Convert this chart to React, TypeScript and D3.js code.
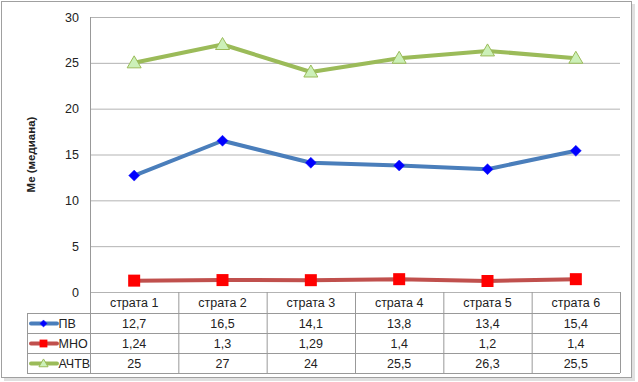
import React from "react";
import * as d3 from "d3";

const categories = ["страта 1", "страта 2", "страта 3", "страта 4", "страта 5", "страта 6"];
const seriesNames = ["ПВ", "МНО", "АЧТВ"];
const pvValues = [12.7, 16.5, 14.1, 13.8, 13.4, 15.4];
const mnoValues = [1.24, 1.3, 1.29, 1.4, 1.2, 1.4];
const achtvValues = [25, 27, 24, 25.5, 26.3, 25.5];
const yTicks = [0, 5, 10, 15, 20, 25, 30];
const yTitle = "Me (медиана)";

const fmt = (v: number) => String(v).replace(".", ",");

const W = 638, H = 382;
const plotL = 90, plotR = 620, plotT = 17, plotB = 292;
const tableL = 27;
const rowH = [21, 20, 20, 20];

export default function App() {
  const x = d3.scaleBand<string>().domain(categories).range([plotL, plotR]);
  const y = d3.scaleLinear().domain([0, 30]).range([plotB, plotT]);
  const cx = (c: string) => (x(c) as number) + x.bandwidth() / 2;
  const line = d3.line<number>().x((_, i) => cx(categories[i])).y((d) => y(d));

  const series = [
    { name: seriesNames[0], values: pvValues, color: "#4a7ebb", marker: "diamond" },
    { name: seriesNames[1], values: mnoValues, color: "#c0504d", marker: "square" },
    { name: seriesNames[2], values: achtvValues, color: "#9bbb59", marker: "triangle" },
  ];

  const marker = (type: string, px: number, py: number, key: string, k = 1) => {
    if (type === "diamond") {
      const s = 5.5 * k;
      return <path key={key} d={`M${px},${py - s}L${px + s},${py}L${px},${py + s}L${px - s},${py}Z`} fill="#0000ff" stroke="#1a1aff" strokeWidth={0.5} />;
    }
    if (type === "square") {
      const s = 6 * k;
      return <rect key={key} x={px - s} y={py - s} width={2 * s} height={2 * s} fill="#ff0000" />;
    }
    const s = 7 * k;
    return <path key={key} d={`M${px},${py - s}L${px + s},${py + 5 * k}L${px - s},${py + 5 * k}Z`} fill="#ccf0b8" stroke="#9bbb59" strokeWidth={1} />;
  };

  const font = "'Liberation Sans', Arial, sans-serif";
  const rowsY: number[] = [plotB];
  rowH.forEach((h, i) => rowsY.push(rowsY[i] + h));
  const tableB = rowsY[rowsY.length - 1];

  return (
    <svg width={W} height={H} style={{ position: "absolute", left: 0, top: 0 }} fontFamily={font}>
      <rect x={0} y={0} width={W} height={H} fill="#fff" />
      <rect x={4} y={4} width={631} height={377} fill="#e0e0e0" />
      <rect x={1.5} y={1.5} width={630} height={376} fill="#fff" stroke="#a0a0a0" strokeWidth={1} />
      {/* gridlines */}
      {yTicks.map((t) => (
        <line key={"g" + t} x1={plotL} x2={plotR} y1={y(t) + 0.5} y2={y(t) + 0.5} stroke="#b3b3b3" strokeWidth={1} />
      ))}
      <line x1={plotL + 0.5} x2={plotL + 0.5} y1={plotT} y2={tableB} stroke="#999" />
      {yTicks.map((t) => (
        <text key={"t" + t} x={79} y={y(t) + 4.5} fontSize={12.5} textAnchor="end" fill="#222">{t}</text>
      ))}
      <text transform={`translate(34.5,${(plotT + plotB) / 2}) rotate(-90)`} textAnchor="middle" fontSize={11.5} fontWeight="bold" fill="#222">{yTitle}</text>
      {/* table */}
      {rowsY.slice(1).map((ry, i) => (
        <line key={"r" + i} x1={tableL} x2={plotR} y1={ry + 0.5} y2={ry + 0.5} stroke="#999" />
      ))}
      <line x1={tableL + 0.5} x2={tableL + 0.5} y1={rowsY[1]} y2={tableB} stroke="#999" />
      {categories.map((c, i) => (
        <line key={"c" + i} x1={(x(c) as number) + x.bandwidth() + 0.5} x2={(x(c) as number) + x.bandwidth() + 0.5} y1={plotB} y2={tableB} stroke="#999" />
      ))}
      {categories.map((c) => (
        <text key={"h" + c} x={cx(c)} y={plotB + 15} fontSize={12.5} textAnchor="middle" fill="#222">{c}</text>
      ))}
      {series.map((s, si) => (
        <g key={"row" + si}>
          <line x1={31} x2={57} y1={rowsY[si + 1] + 10.5} y2={rowsY[si + 1] + 10.5} stroke={s.color} strokeWidth={4} strokeLinecap="round" />
          {marker(s.marker, 43.5, rowsY[si + 1] + 10.5, "lm" + si, 0.65)}
          <text x={58.5} y={rowsY[si + 1] + 15} fontSize={12.5} fill="#222">{s.name}</text>
          {s.values.map((v, i) => (
            <text key={"v" + i} x={cx(categories[i])} y={rowsY[si + 1] + 15} fontSize={12.5} textAnchor="middle" fill="#222">{fmt(v)}</text>
          ))}
        </g>
      ))}
      {/* lines */}
      {series.map((s, si) => (
        <g key={"s" + si}>
          <path d={line(s.values) as string} fill="none" stroke={s.color} strokeWidth={4} strokeLinejoin="round" />
          {s.values.map((v, i) => marker(s.marker, cx(categories[i]), y(v), "m" + si + i))}
        </g>
      ))}
    </svg>
  );
}
